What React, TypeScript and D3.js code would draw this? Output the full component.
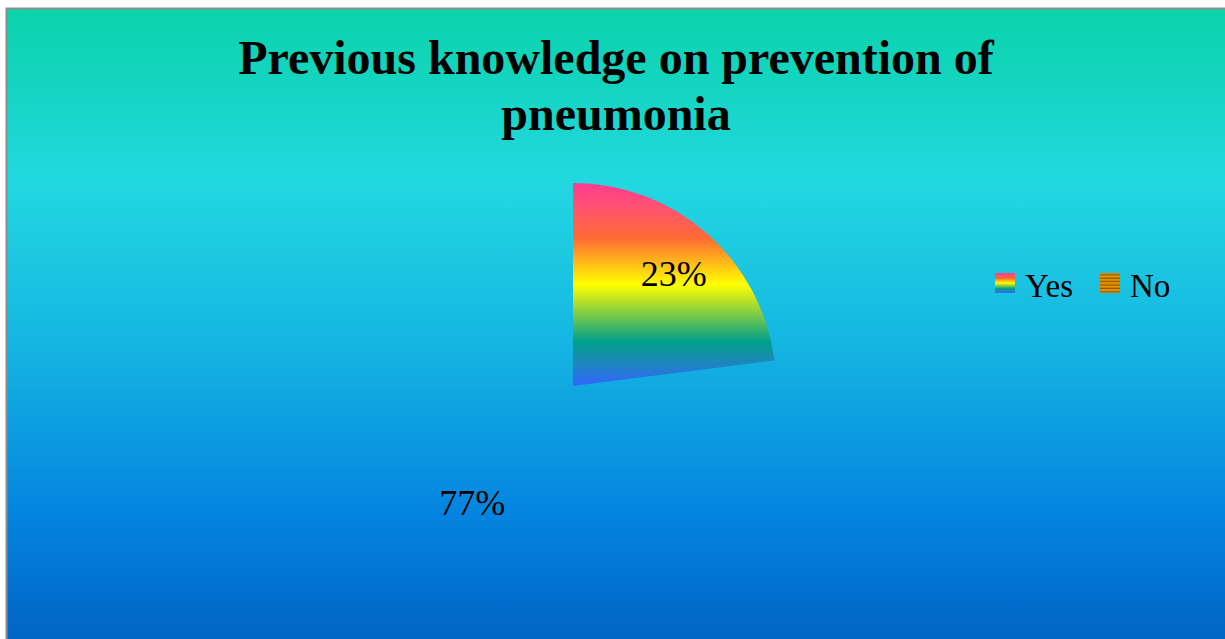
import React from "react";
import * as d3 from "d3";

const categories = ["Yes", "No"];
const values = [23, 77];
const labels = ["23%", "77%"];

const titleLines = ["Previous knowledge on prevention of", "pneumonia"];

const W = 1225;
const H = 639;
const cx = 573;
const cy = 386;
const radius = 203;

const rainbow = [
  [0, "#ff3a90"],
  [0.12, "#ff5270"],
  [0.27, "#ff6a35"],
  [0.5, "#ffff00"],
  [0.64, "#84cc44"],
  [0.78, "#00a08a"],
  [0.88, "#1c88b8"],
  [1, "#3366ff"],
];

const bg = [
  [0, "#0ad3aa"],
  [0.27, "#22d8e0"],
  [0.5, "#16b8e2"],
  [0.78, "#0484e0"],
  [1, "#0060c0"],
];

export default function App() {
  const pie = d3.pie<number>().sort(null).value((d) => d);
  const arcs = pie(values);
  const arc = d3.arc<d3.PieArcDatum<number>>().innerRadius(0).outerRadius(radius);
  const labelArc = d3
    .arc<d3.PieArcDatum<number>>()
    .innerRadius(radius * 0.75)
    .outerRadius(radius * 0.75);

  const fills = ["url(#rainbow)", "none"];
  const swatches = ["url(#rainbowSw)", "url(#stripes)"];
  const legendX = [995, 1100];

  return (
    <svg
      width={W}
      height={H}
      style={{ position: "absolute", left: 0, top: 0, display: "block" }}
      fontFamily="'Liberation Serif', 'Times New Roman', serif"
    >
      <defs>
        <linearGradient id="bg" x1="0" y1="0" x2="0" y2="1">
          {bg.map(([o, c]) => (
            <stop key={o as number} offset={o as number} stopColor={c as string} />
          ))}
        </linearGradient>
        <linearGradient id="rainbow" x1="0" y1="0" x2="0" y2="1">
          {rainbow.map(([o, c]) => (
            <stop key={o as number} offset={o as number} stopColor={c as string} />
          ))}
        </linearGradient>
        <linearGradient id="rainbowSw" x1="0" y1="0" x2="0" y2="1">
          {rainbow.map(([o, c]) => (
            <stop key={o as number} offset={o as number} stopColor={c as string} />
          ))}
        </linearGradient>
        <pattern id="stripes" width="4" height="3.4" patternUnits="userSpaceOnUse">
          <rect width="4" height="3.4" fill="#e89000" />
          <rect y="2.2" width="4" height="1.2" fill="#8a5a00" />
        </pattern>
      </defs>

      <rect x={6.5} y={8.5} width={W + 10} height={H + 10} fill="url(#bg)" stroke="#8c8c8c" strokeWidth={2} />

      <text textAnchor="middle" fontWeight="bold" fontSize={48} fill="#000">
        {titleLines.map((t, i) => (
          <tspan key={i} x={616} y={74 + i * 56}>
            {t}
          </tspan>
        ))}
      </text>

      <g transform={`translate(${cx},${cy})`}>
        {arcs.map((a, i) => (
          <path key={i} d={arc(a) || ""} fill={fills[i]} />
        ))}
        {arcs.map((a, i) => {
          const [x, y] = labelArc.centroid(a);
          return (
            <text key={i} x={x} y={y} textAnchor="middle" dy="0.4em" fontSize={36} fill="#000">
              {labels[i]}
            </text>
          );
        })}
      </g>

      {categories.map((c, i) => (
        <g key={c}>
          <rect x={legendX[i]} y={273} width={20} height={20} fill={swatches[i]} />
          <text x={legendX[i] + 30} y={297} fontSize={33} fill="#000">
            {c}
          </text>
        </g>
      ))}
    </svg>
  );
}
